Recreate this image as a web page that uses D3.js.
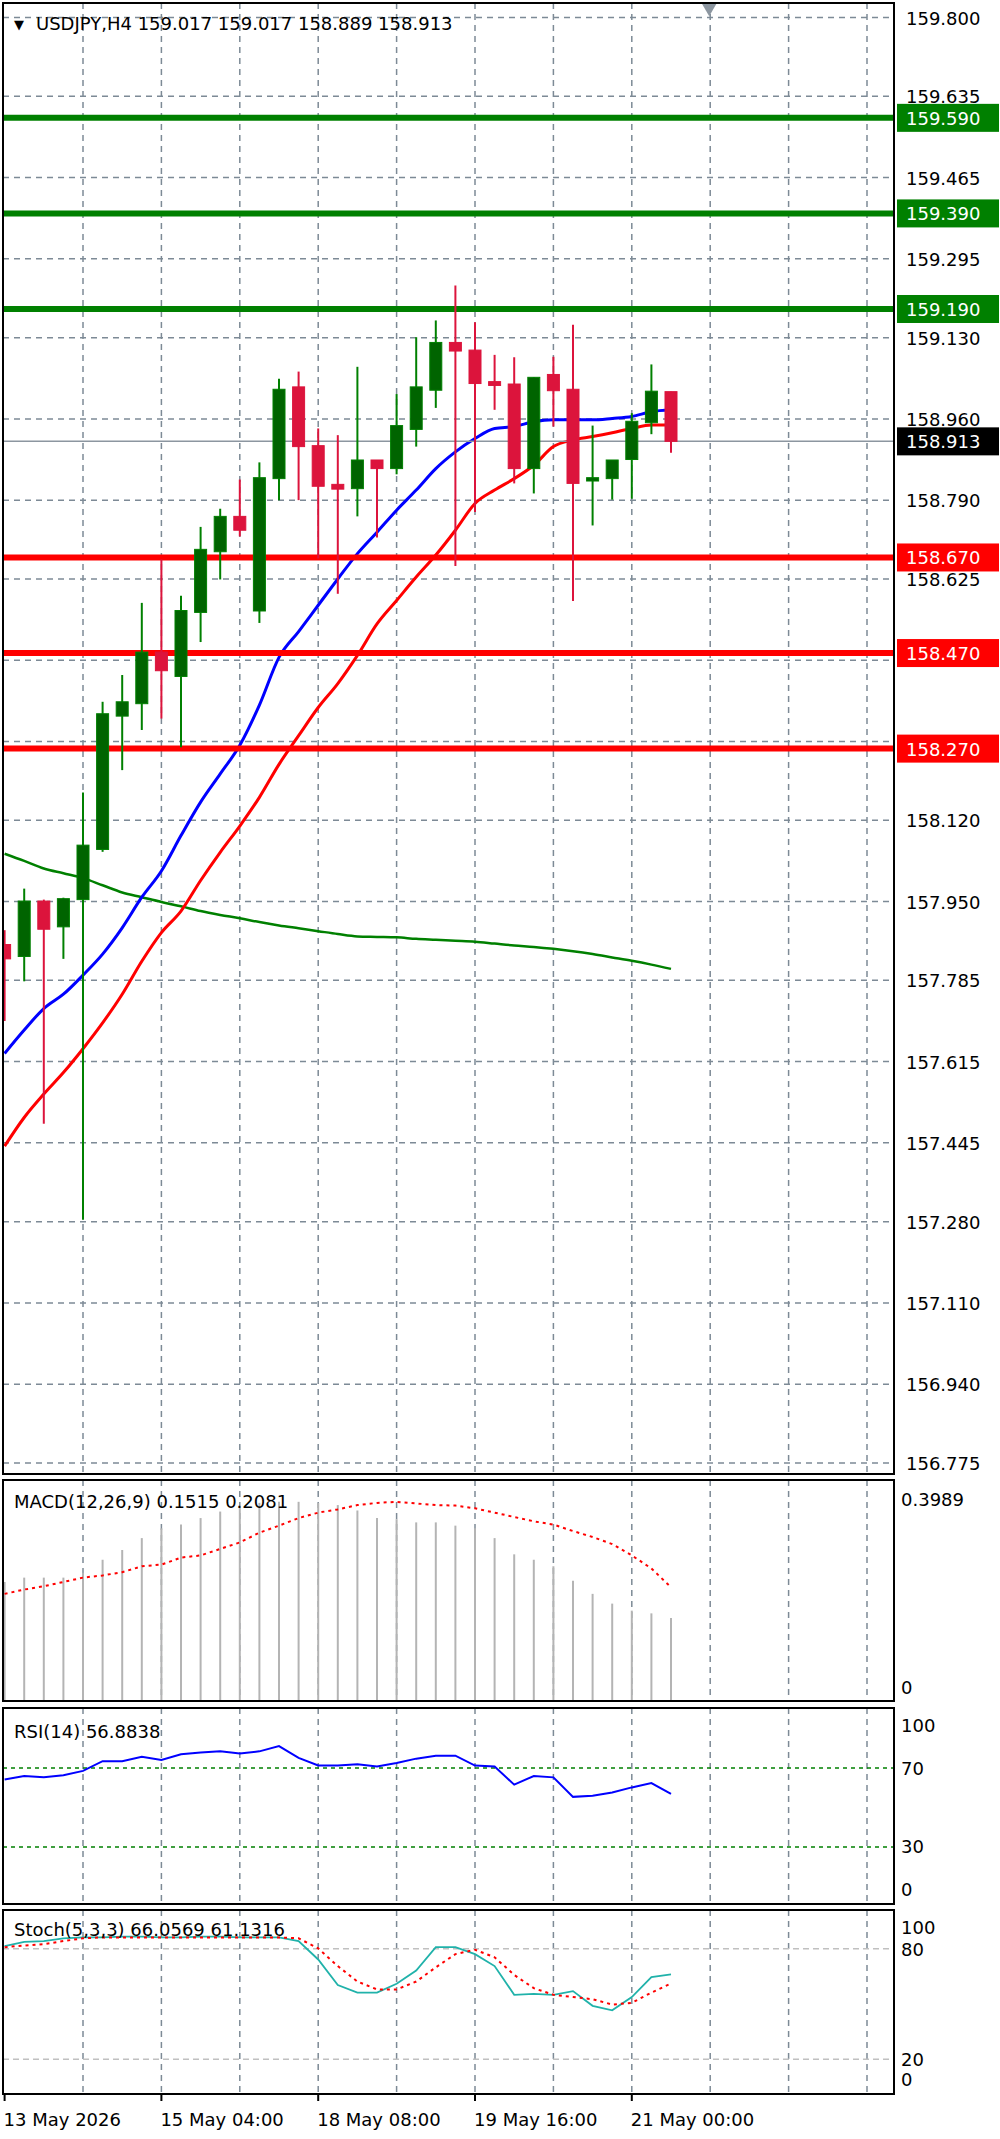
<!DOCTYPE html>
<html>
<head>
<meta charset="utf-8">
<script src="https://cdn.jsdelivr.net/npm/d3@7"></script>
<style>
  body { margin: 0; background: #fff; }
  svg { display: block; font-family: "DejaVu Sans", sans-serif; }
</style>
</head>
<body>
<div id="chart"></div>
<script>
// candles, H4
const opens  = [157.86,157.835,157.951,157.897,157.954,158.059,158.338,158.364,158.472,158.421,158.555,158.682,158.756,158.558,158.835,159.027,158.904,158.823,158.814,158.874,158.856,158.938,159.020,159.120,159.104,159.038,159.033,158.856,159.053,159.022,158.830,158.835,158.875,158.952,159.017]
const highs  = [157.89,157.977,157.954,157.958,158.178,158.368,158.424,158.575,158.666,158.590,158.734,158.772,158.833,158.869,159.044,159.059,158.940,158.926,159.069,158.874,159.012,159.131,159.166,159.239,159.162,159.094,159.089,159.047,159.090,159.157,158.946,158.874,158.972,159.074,159.017]
const lows   = [157.70,157.783,157.485,157.830,157.284,158.054,158.225,158.309,158.333,158.273,158.493,158.624,158.714,158.533,158.790,158.790,158.668,158.594,158.756,158.712,158.844,158.902,158.983,158.652,158.765,158.979,158.825,158.804,158.944,158.579,158.737,158.791,158.793,158.928,158.889]
const closes = [157.83,157.951,157.892,157.956,158.068,158.343,158.368,158.472,158.433,158.559,158.687,158.756,158.727,158.837,159.022,158.902,158.819,158.813,158.874,158.856,158.946,159.027,159.120,159.102,159.034,159.030,158.856,159.047,159.019,158.825,158.837,158.874,158.955,159.018,158.913]

const maBlue  = [157.632,157.681,157.726,157.756,157.796,157.840,157.895,157.959,158.014,158.088,158.158,158.217,158.277,158.361,158.461,158.515,158.570,158.625,158.678,158.723,158.769,158.811,158.856,158.891,158.919,158.940,158.944,158.954,158.958,158.958,158.958,158.961,158.965,158.975,158.979]
const maRed   = [157.438,157.498,157.547,157.592,157.642,157.696,157.756,157.825,157.885,157.930,157.994,158.053,158.108,158.168,158.237,158.297,158.356,158.406,158.465,158.531,158.580,158.629,158.675,158.727,158.783,158.811,158.835,158.863,158.902,158.916,158.923,158.931,158.940,158.947,158.947]
const maGreen = [158.050,158.035,158.019,158.009,157.999,157.984,157.969,157.959,157.949,157.940,157.930,157.922,157.915,157.907,157.900,157.894,157.888,157.882,157.877,157.876,157.875,157.872,157.870,157.868,157.866,157.862,157.858,157.855,157.851,157.846,157.840,157.833,157.826,157.818,157.809]

const macdHist   = [0.218,0.226,0.226,0.226,0.235,0.259,0.277,0.299,0.317,0.324,0.336,0.348,0.358,0.364,0.366,0.366,0.364,0.360,0.350,0.336,0.334,0.328,0.328,0.322,0.317,0.299,0.269,0.259,0.247,0.220,0.196,0.178,0.165,0.160,0.1515]
const macdSignal = [0.196,0.204,0.210,0.218,0.226,0.230,0.236,0.247,0.250,0.263,0.267,0.279,0.291,0.309,0.322,0.336,0.346,0.352,0.360,0.364,0.366,0.363,0.360,0.359,0.354,0.346,0.338,0.330,0.324,0.312,0.301,0.288,0.267,0.243,0.2081]
const rsi = [64.2,66.0,65.3,66.4,68.6,73.5,73.5,75.7,74.1,77.0,77.9,78.5,77.4,78.5,81.2,75.2,71.3,71.3,71.9,70.8,72.6,74.8,76.3,76.3,71.3,70.8,61.6,66.0,65.3,55.4,56.0,57.6,60.2,62.4,56.88]
const stochMain = [81.4,83.8,84.2,85.7,86.2,86.2,86.6,86.6,86.2,86.2,86.6,86.6,86.2,86.2,86.2,84.2,74.2,60.3,56.2,56.2,61.0,68.2,80.9,80.9,77.1,70.6,55.0,55.5,55.0,57.0,49.0,46.6,53.8,64.6,66.06]
const stochSig  = [80.9,81.8,82.5,84.2,85.7,86.2,86.2,86.2,86.2,86.2,86.2,86.2,86.2,86.2,86.2,85.7,80.2,70.6,62.2,57.9,57.9,62.2,69.9,77.1,79.5,75.4,65.8,58.6,55.0,53.8,52.6,49.7,50.6,56.2,61.13]

const priceTicks = [159.800,159.635,159.465,159.295,159.130,158.960,158.790,158.625,158.455,158.285,158.120,157.950,157.785,157.615,157.445,157.280,157.110,156.940,156.775]
const resistLevels = [159.59, 159.39, 159.19]
const supportLevels = [158.67, 158.47, 158.27]
const lastPrice = 158.913
const timeLabels = [[0,'13 May 2026'],[8,'15 May 04:00'],[16,'18 May 08:00'],[24,'19 May 16:00'],[32,'21 May 00:00']]

const W = 1000, H = 2139, R = 894
const svg = d3.select('#chart').append('svg').attr('width', W).attr('height', H)

const x = d3.scaleLinear().domain([0, 34]).range([4.6, 671])
const gridIdx = d3.range(4, 45, 4)

const panels = {
  main:  { top: 3,    bottom: 1474 },
  macd:  { top: 1480, bottom: 1701 },
  rsi:   { top: 1708, bottom: 1904 },
  stoch: { top: 1910, bottom: 2094 }
}
const y = d3.scaleLinear().domain([156.775, 159.800]).range([1463, 17.5])
const yMacd = d3.scaleLinear().domain([0, 0.3989]).range([1700, 1484])
const yRsi = d3.scaleLinear().domain([0, 100]).range([1906, 1709])
const ySt = d3.scaleLinear().domain([0, 100]).range([2096, 1912])

const gridColor = '#7d8a96'
function vgrid(p) {
  svg.append('g').selectAll('line').data(gridIdx).join('line')
    .attr('x1', d => x(d)).attr('x2', d => x(d))
    .attr('y1', p.top).attr('y2', p.bottom)
    .attr('stroke', gridColor).attr('stroke-width', 1.5).attr('stroke-dasharray', '6,5')
}
function frame(p) {
  svg.append('rect').attr('x', 3).attr('y', p.top).attr('width', R - 3).attr('height', p.bottom - p.top)
    .attr('fill', 'none').attr('stroke', '#000').attr('stroke-width', 2)
}
function label(txt, xx, yy, opts = {}) {
  return svg.append('text').attr('x', xx).attr('y', yy).text(txt)
    .attr('font-size', opts.size || 18).attr('fill', opts.fill || '#000')
    .attr('text-anchor', opts.anchor || 'start')
}

// main panel
Object.values(panels).forEach(vgrid)
svg.append('g').selectAll('line').data(priceTicks).join('line')
  .attr('x1', 3).attr('x2', R).attr('y1', d => y(d)).attr('y2', d => y(d))
  .attr('stroke', gridColor).attr('stroke-width', 1.5).attr('stroke-dasharray', '6,5')
// tick labels hidden by a level box are left out, as in the terminal
const boxed = resistLevels.concat(supportLevels, [lastPrice])
priceTicks.filter(t => !boxed.some(b => Math.abs(y(t) - y(b)) < 12))
  .forEach(t => label(t.toFixed(3), 906, y(t) + 7))

// moving averages
const line = arr => d3.line().curve(d3.curveMonotoneX).x((d, i) => x(i)).y(d => y(d))(arr)
svg.append('path').attr('d', line(maGreen)).attr('fill', 'none').attr('stroke', '#008000').attr('stroke-width', 2.5)
svg.append('path').attr('d', line(maBlue)).attr('fill', 'none').attr('stroke', '#0000ff').attr('stroke-width', 3)
svg.append('path').attr('d', line(maRed)).attr('fill', 'none').attr('stroke', '#ff0000').attr('stroke-width', 3)

// levels
svg.append('line').attr('x1', 3).attr('x2', R).attr('y1', y(lastPrice)).attr('y2', y(lastPrice))
  .attr('stroke', '#8c96a0').attr('stroke-width', 1.5)
function level(v, col) {
  svg.append('line').attr('x1', 3).attr('x2', R).attr('y1', y(v)).attr('y2', y(v))
    .attr('stroke', col).attr('stroke-width', 6)
}
resistLevels.forEach(v => level(v, '#008000'))
supportLevels.forEach(v => level(v, '#ff0000'))

// candles
const candles = svg.append('g')
d3.range(opens.length).forEach(i => {
  const up = closes[i] >= opens[i]
  const wick = up ? '#008000' : '#dc143c'
  candles.append('line').attr('x1', x(i)).attr('x2', x(i)).attr('y1', y(highs[i])).attr('y2', y(lows[i]))
    .attr('stroke', wick).attr('stroke-width', 2)
  const t = y(Math.max(opens[i], closes[i])), b = y(Math.min(opens[i], closes[i]))
  candles.append('rect').attr('x', x(i) - 6).attr('y', t).attr('width', 12).attr('height', Math.max(b - t, 2))
    .attr('fill', up ? '#006400' : '#dc143c').attr('stroke', up ? '#008000' : '#dc143c').attr('stroke-width', 1)
})

// price boxes
function box(v, col) {
  svg.append('rect').attr('x', 897).attr('y', y(v) - 14).attr('width', 102).attr('height', 28).attr('fill', col)
  label(v.toFixed(3), 906, y(v) + 7, { fill: '#fff' })
}
resistLevels.forEach(v => box(v, '#008000'))
supportLevels.forEach(v => box(v, '#ff0000'))
box(lastPrice, '#000')

// marker at top
svg.append('path').attr('d', d3.symbol(d3.symbolTriangle, 110)()).attr('fill', '#8c96a0')
  .attr('transform', `translate(${x(36) - 1},7) rotate(180)`)

svg.append('rect').attr('x', 0).attr('y', panels.main.top).attr('width', 3).attr('height', H).attr('fill', '#fff')
frame(panels.main)
label('\u25BC', 14, 29, { size: 13 })
label('USDJPY,H4  159.017 159.017 158.889 158.913', 36, 30)

// MACD
svg.append('g').selectAll('line').data(macdHist).join('line')
  .attr('x1', (d, i) => x(i)).attr('x2', (d, i) => x(i))
  .attr('y1', yMacd(0)).attr('y2', d => yMacd(d))
  .attr('stroke', '#b4b4b4').attr('stroke-width', 2)
svg.append('path').attr('d', d3.line().x((d, i) => x(i)).y(d => yMacd(d))(macdSignal))
  .attr('fill', 'none').attr('stroke', '#ff0000').attr('stroke-width', 2).attr('stroke-dasharray', '3,4')
frame(panels.macd)
label('MACD(12,26,9) 0.1515 0.2081', 14, 1508)
label('0.3989', 901, 1506)
label('0', 901, 1694)

// RSI
;[70, 30].forEach(v => svg.append('line').attr('x1', 3).attr('x2', R).attr('y1', yRsi(v)).attr('y2', yRsi(v))
  .attr('stroke', '#008000').attr('stroke-width', 1.5).attr('stroke-dasharray', '4,4'))
svg.append('path').attr('d', d3.line().x((d, i) => x(i)).y(d => yRsi(d))(rsi))
  .attr('fill', 'none').attr('stroke', '#0000ff').attr('stroke-width', 2)
frame(panels.rsi)
label('RSI(14) 56.8838', 14, 1738)
;[[100, 1732], [70, 1775], [30, 1853], [0, 1896]].forEach(([t, yy]) => label(t, 901, yy))

// Stochastic
;[80, 20].forEach(v => svg.append('line').attr('x1', 3).attr('x2', R).attr('y1', ySt(v)).attr('y2', ySt(v))
  .attr('stroke', '#c0c0c0').attr('stroke-width', 1.5).attr('stroke-dasharray', '6,4'))
svg.append('path').attr('d', d3.line().x((d, i) => x(i)).y(d => ySt(d))(stochMain))
  .attr('fill', 'none').attr('stroke', '#20b2aa').attr('stroke-width', 1.8)
svg.append('path').attr('d', d3.line().x((d, i) => x(i)).y(d => ySt(d))(stochSig))
  .attr('fill', 'none').attr('stroke', '#ff0000').attr('stroke-width', 2).attr('stroke-dasharray', '3,4')
frame(panels.stoch)
label('Stoch(5,3,3) 66.0569 61.1316', 14, 1936)
;[[100, 1934], [80, 1956], [20, 2066], [0, 2086]].forEach(([t, yy]) => label(t, 901, yy))

// time axis
svg.append('g').selectAll('line').data(timeLabels).join('line')
  .attr('x1', d => x(d[0])).attr('x2', d => x(d[0])).attr('y1', 2094).attr('y2', 2101)
  .attr('stroke', '#000').attr('stroke-width', 2)
timeLabels.forEach(([i, t]) => label(t, x(i) - 1, 2126))
</script>
</body>
</html>
